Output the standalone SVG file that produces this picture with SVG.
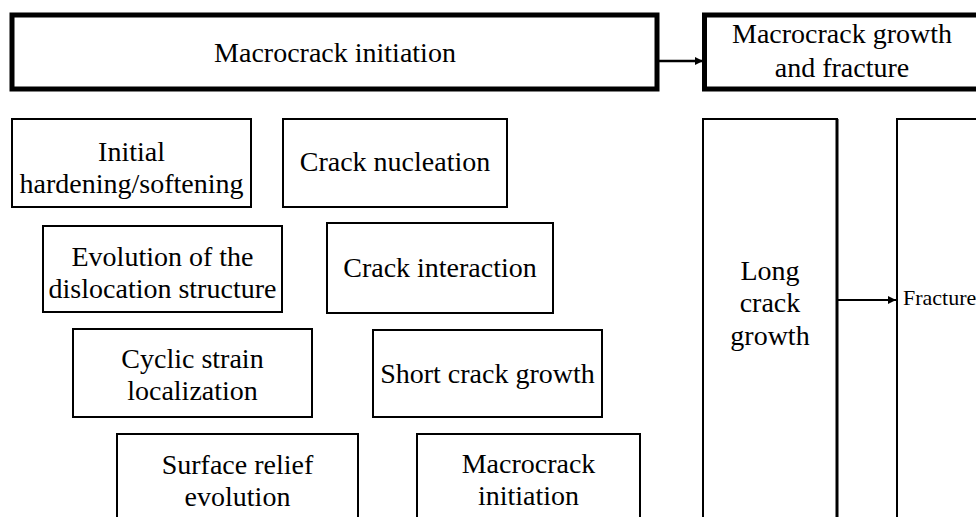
<svg xmlns="http://www.w3.org/2000/svg" width="976" height="517" viewBox="0 0 976 517">
<style>
.box{fill:#fff;stroke:#000;stroke-width:2}
.thick{fill:#fff;stroke:#000;stroke-width:5}
text{font-family:'Liberation Serif','DejaVu Serif',serif;fill:#000}
.t{font-size:28px;text-anchor:middle}
.s{font-size:22px}
.ln{stroke:#000;fill:none}
</style>
<defs>
<marker id="ah" markerWidth="8" markerHeight="8" refX="8" refY="4" orient="auto" markerUnits="userSpaceOnUse">
<path d="M0,0 L8,4 L0,8 Z" fill="#000"/>
</marker>
</defs>
<rect width="976" height="517" fill="#fff"/>
<g id="connectors">
<line class="ln" x1="657" y1="61" x2="703" y2="61" stroke-width="2.5" marker-end="url(#ah)"/>
<line class="ln" x1="838" y1="300" x2="896" y2="300" stroke-width="2" marker-end="url(#ah)"/>
</g>
<g id="n-macro-init-top">
<rect class="thick" x="12" y="15" width="645" height="74"/>
<text class="t" x="335" y="62" font-family="Liberation Serif, serif">Macrocrack initiation</text>
</g>
<g id="n-macro-growth">
<rect class="thick" x="704.5" y="15" width="290" height="74"/>
<text class="t" x="842" y="43">Macrocrack growth</text>
<text class="t" x="842" y="77">and fracture</text>
</g>
<g id="n-initial">
<rect class="box" x="12" y="119" width="239" height="88"/>
<text class="t" x="131.5" y="161">Initial</text>
<text class="t" x="131.5" y="193">hardening/softening</text>
</g>
<g id="n-nucleation">
<rect class="box" x="283" y="119" width="224" height="88"/>
<text class="t" x="395" y="171">Crack nucleation</text>
</g>
<g id="n-evolution">
<rect class="box" x="43" y="226" width="239" height="86"/>
<text class="t" x="162.5" y="266">Evolution of the</text>
<text class="t" x="162.5" y="298">dislocation structure</text>
</g>
<g id="n-interaction">
<rect class="box" x="327" y="223" width="226" height="90"/>
<text class="t" x="440" y="277">Crack interaction</text>
</g>
<g id="n-cyclic">
<rect class="box" x="73" y="329" width="239" height="88"/>
<text class="t" x="192.5" y="368">Cyclic strain</text>
<text class="t" x="192.5" y="400">localization</text>
</g>
<g id="n-short">
<rect class="box" x="373" y="330" width="229" height="87"/>
<text class="t" x="487.5" y="383">Short crack growth</text>
</g>
<g id="n-surface">
<rect class="box" x="117" y="434" width="241" height="100"/>
<text class="t" x="237.5" y="474">Surface relief</text>
<text class="t" x="237.5" y="506">evolution</text>
</g>
<g id="n-macro-init">
<rect class="box" x="417" y="434" width="223" height="100"/>
<text class="t" x="528.5" y="473">Macrocrack</text>
<text class="t" x="528.5" y="505">initiation</text>
</g>
<g id="n-long">
<rect class="box" x="703" y="119" width="134" height="420"/>
<line class="ln" x1="837" y1="119" x2="837" y2="539" stroke-width="3"/>
<text class="t" x="770" y="280">Long</text>
<text class="t" x="770" y="312">crack</text>
<text class="t" x="770" y="345">growth</text>
</g>
<g id="n-fracture">
<rect class="box" x="897" y="119" width="120" height="420"/>
<text class="s" x="903" y="305">Fracture</text>
</g>
</svg>
